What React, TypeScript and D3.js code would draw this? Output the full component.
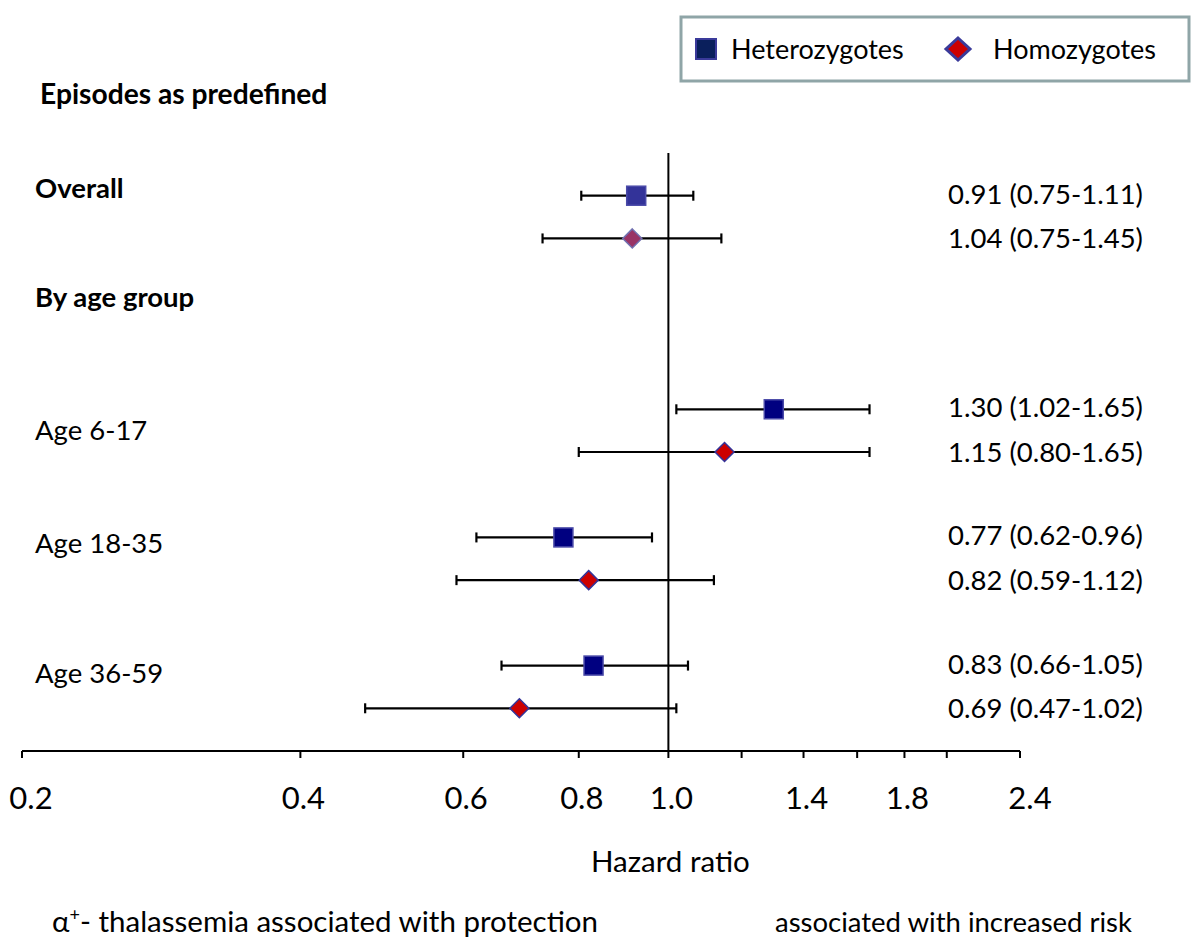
import React from 'react';
import * as d3 from 'd3';

// plotted hazard ratios and the printed labels
const rowKeys = ['ov-het', 'ov-hom', 'a1-het', 'a1-hom', 'a2-het', 'a2-hom', 'a3-het', 'a3-hom'];
const rowSlots = [0, 1, 5, 6, 8, 9, 11, 12];
const rowGroup = ['het', 'hom', 'het', 'hom', 'het', 'hom', 'het', 'hom'];
const hr = [0.923, 0.914, 1.30, 1.15, 0.77, 0.82, 0.83, 0.69];
const lower = [0.805, 0.731, 1.02, 0.80, 0.62, 0.59, 0.66, 0.47];
const upper = [1.064, 1.141, 1.65, 1.65, 0.96, 1.12, 1.05, 1.02];
const valueLabels = [
  '0.91 (0.75-1.11)', '1.04 (0.75-1.45)',
  '1.30 (1.02-1.65)', '1.15 (0.80-1.65)',
  '0.77 (0.62-0.96)', '0.82 (0.59-1.12)',
  '0.83 (0.66-1.05)', '0.69 (0.47-1.02)',
];
const groupLabels = ['Age 6-17', 'Age 18-35', 'Age 36-59'];
const groupSlots = [5.55, 8.2, 11.25];
const headLabels = ['Overall', 'By age group'];
const headSlots = [-0.1, 2.45];
const tickValues = [0.2, 0.4, 0.6, 0.8, 1.0, 1.2, 1.4, 1.6, 1.8, 2.0, 2.4];
const tickLabels = [0.2, 0.4, 0.6, 0.8, 1.0, 1.4, 1.8, 2.4];

const FONT = 'Lato, "Open Sans", sans-serif';

const App = () => {
  const width = 1200;
  const height = 949;
  const x = d3.scaleLog().domain([0.2, 2.4]).range([22, 1020]);
  const y = d3.scaleLinear().domain([-1, 13]).range([153, 751]);
  const axisY = y(13);

  const marker = (g: string, i: number, cx: number, cy: number) => {
    if (g === 'het') {
      const s = 19;
      const fill = i === 0 ? '#333399' : '#000080';
      return <rect x={cx - s / 2} y={cy - s / 2} width={s} height={s} fill={fill} stroke="#4a4aa8" strokeWidth={1.5} />;
    }
    const r = 9.5;
    const fill = i === 1 ? '#993366' : '#cc0000';
    const stroke = i === 1 ? '#7070b0' : '#333399';
    const pts = `${cx},${cy - r} ${cx + r},${cy} ${cx},${cy + r} ${cx - r},${cy}`;
    return <polygon points={pts} fill={fill} stroke={stroke} strokeWidth={1.5} />;
  };

  return (
    <svg width={width} height={height} style={{ display: 'block', margin: -8 }} fontFamily={FONT}>
      <rect width={width} height={height} fill="#fff" />

      {/* legend */}
      <rect x={681} y={17} width={508} height={64} fill="#fff" stroke="#8fa5a7" strokeWidth={3} />
      <rect x={696} y={39} width={20} height={20} fill="#0a1f5c" stroke="#3a3a9a" strokeWidth={2} />
      <text x={731} y={59} fontSize={27}>Heterozygotes</text>
      <polygon points="958,38 970,49 958,60 946,49" fill="#cc0000" stroke="#3a3a9a" strokeWidth={3} />
      <text x={993} y={59} fontSize={27}>Homozygotes</text>

      <text x={40} y={104} fontSize={28.2} fontWeight="bold">Episodes as predefined</text>
      {headLabels.map((t, i) => (
        <text key={t} x={35} y={y(headSlots[i])} fontSize={27.5} fontWeight="bold" dominantBaseline="middle">{t}</text>
      ))}
      {groupLabels.map((t, i) => (
        <text key={t} x={35} y={y(groupSlots[i])} fontSize={27.5} dominantBaseline="middle">{t}</text>
      ))}

      {/* reference line at HR = 1 */}
      <line x1={x(1)} x2={x(1)} y1={y(-1)} y2={axisY} stroke="#000" strokeWidth={2} />

      {/* x axis */}
      <line x1={x(0.2)} x2={x(2.4)} y1={axisY} y2={axisY} stroke="#000" strokeWidth={2} />
      {tickValues.map((v) => (
        <line key={v} x1={x(v)} x2={x(v)} y1={axisY} y2={axisY + 7} stroke="#000" strokeWidth={2} />
      ))}
      {tickLabels.map((v) => (
        <text key={v} x={x(v) + (v === 0.2 ? 9 : v === 2.4 ? 10 : 3)} y={809} fontSize={31} textAnchor="middle">
          {v.toFixed(1)}
        </text>
      ))}
      <text x={x(1) + 2} y={872} fontSize={29.5} textAnchor="middle">Hazard ratio</text>

      {/* error bars and markers */}
      {rowKeys.map((k, i) => {
        const cy = y(rowSlots[i]);
        const x0 = x(lower[i]);
        const x1 = x(upper[i]);
        return (
          <g key={k}>
            <line x1={x0} x2={x1} y1={cy} y2={cy} stroke="#000" strokeWidth={2.2} />
            <line x1={x0} x2={x0} y1={cy - 5} y2={cy + 5} stroke="#000" strokeWidth={2.2} />
            <line x1={x1} x2={x1} y1={cy - 5} y2={cy + 5} stroke="#000" strokeWidth={2.2} />
            {marker(rowGroup[i], i, x(hr[i]), cy)}
            <text x={948} y={cy + (i % 2 ? 3 : 1)} fontSize={27.5} dominantBaseline="middle">{valueLabels[i]}</text>
          </g>
        );
      })}

      <text x={52} y={932} fontSize={29.5}>
        α<tspan fontSize={18} dy={-11}>+</tspan><tspan dy={11}>- thalassemia associated with protection</tspan>
      </text>
      <text x={775} y={932} fontSize={27.5}>associated with increased risk</text>
    </svg>
  );
};

export default App;
